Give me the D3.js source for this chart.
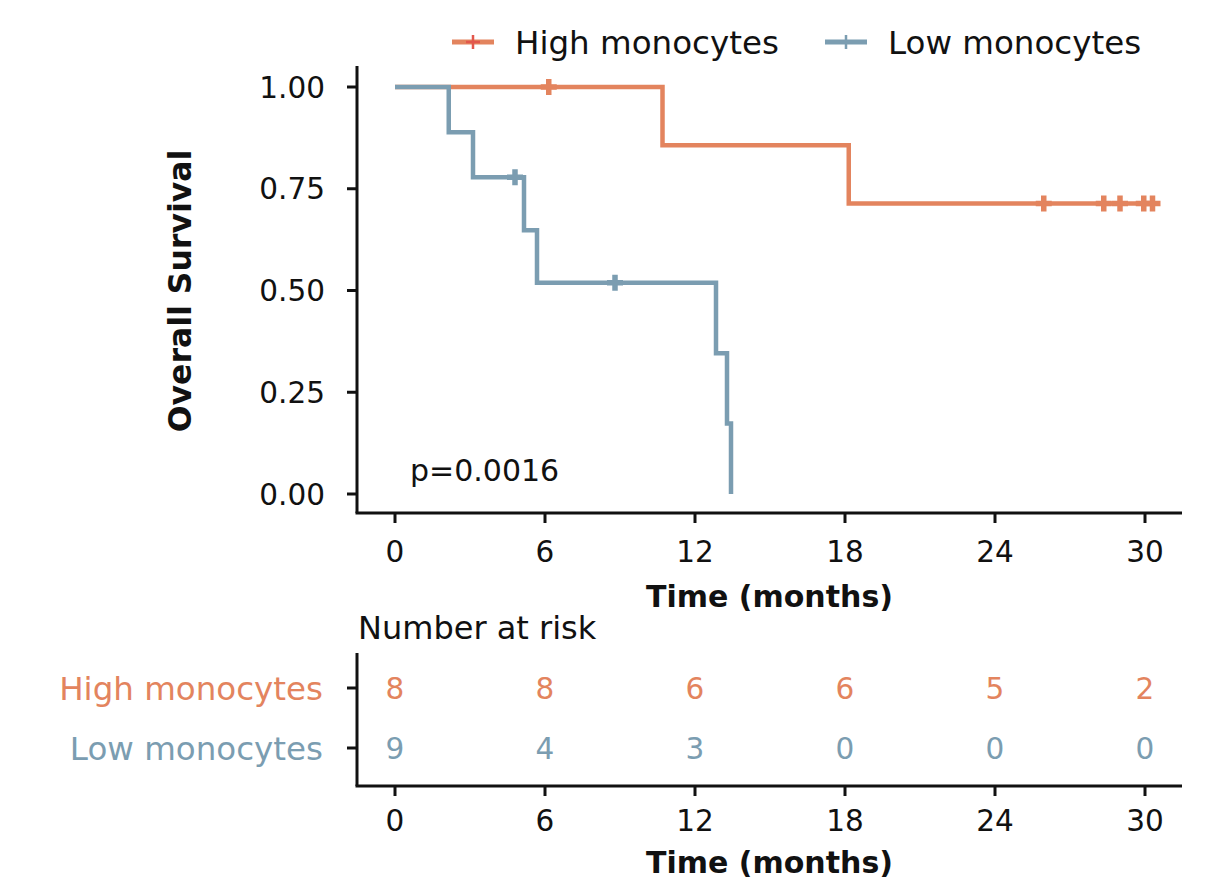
<!DOCTYPE html>
<html>
<head>
<meta charset="utf-8">
<script src="https://cdn.jsdelivr.net/npm/d3@7"></script>
<style>
  body { margin: 0; background: #fff; }
  svg text { font-family: "DejaVu Sans", "Noto Sans", sans-serif; }
</style>
</head>
<body>
<svg id="chart" width="1231" height="884"></svg>
<script>
// survival steps (months, survival proportion)
const groups = ["High monocytes", "Low monocytes"];
const colors = ["#E3845E", "#7B9DB1"];
const highTimes = [0, 10.7, 18.15, 30.3];
const highSurv = [1, 0.857, 0.714, 0.714];
const highCensor = [6.15, 25.95, 28.35, 29.0, 29.95, 30.3];
const lowTimes = [0, 2.15, 3.12, 5.16, 5.68, 12.84, 13.28, 13.44];
const lowSurv = [1, 0.889, 0.778, 0.648, 0.519, 0.346, 0.173, 0];
const lowCensor = [4.8, 8.8];
const xTicks = [0, 6, 12, 18, 24, 30];
const yTicks = [0, 0.25, 0.5, 0.75, 1];
const highRisk = [8, 8, 6, 6, 5, 2];
const lowRisk = [9, 4, 3, 0, 0, 0];
const pValue = "p=0.0016";

const svg = d3.select("#chart");
const x = d3.scaleLinear().domain([0, 30]).range([395, 1145]);
const y = d3.scaleLinear().domain([0, 1]).range([494, 87]);
const xMin = -1.52, xMax = 31.48;
const xMid = (x(xMin) + x(xMax)) / 2;

const series = [
  { name: groups[0], color: colors[0], t: highTimes, s: highSurv, c: highCensor },
  { name: groups[1], color: colors[1], t: lowTimes, s: lowSurv, c: lowCensor }
];

function survAt(d, t) {
  let v = d.s[0];
  d.t.forEach((tt, i) => { if (tt <= t) v = d.s[i]; });
  return v;
}

// axes
const axisColor = "#111";
const numSize = 29.5;
svg.append("line").attr("x1", x(xMin)).attr("x2", x(xMin)).attr("y1", 66).attr("y2", 513)
  .attr("stroke", axisColor).attr("stroke-width", 3);
svg.append("line").attr("x1", x(xMin) - 1.5).attr("x2", x(xMax)).attr("y1", 513).attr("y2", 513)
  .attr("stroke", axisColor).attr("stroke-width", 3);

yTicks.forEach(v => {
  svg.append("line").attr("x1", x(xMin) - 10).attr("x2", x(xMin)).attr("y1", y(v)).attr("y2", y(v))
    .attr("stroke", axisColor).attr("stroke-width", 3);
  svg.append("text").attr("x", 325).attr("y", y(v)).attr("dy", "0.36em")
    .attr("text-anchor", "end").attr("font-size", numSize).attr("fill", "#111")
    .text(d3.format(".2f")(v));
});

xTicks.forEach(v => {
  svg.append("line").attr("x1", x(v)).attr("x2", x(v)).attr("y1", 513).attr("y2", 523)
    .attr("stroke", axisColor).attr("stroke-width", 3);
  svg.append("text").attr("x", x(v)).attr("y", 551).attr("dy", "0.36em")
    .attr("text-anchor", "middle").attr("font-size", numSize).attr("fill", "#111").text(v);
});

svg.append("text").attr("x", xMid).attr("y", 596).attr("dy", "0.36em")
  .attr("text-anchor", "middle").attr("font-size", 30).attr("font-weight", "bold")
  .attr("fill", "#111").text("Time (months)");

svg.append("text").attr("transform", "translate(180,291) rotate(-90)").attr("dy", "0.36em")
  .attr("text-anchor", "middle").attr("font-size", 31.5).attr("font-weight", "bold")
  .attr("fill", "#111").text("Overall Survival");

// curves
const line = d3.line().x(d => x(d[0])).y(d => y(d[1])).curve(d3.curveStepAfter);
series.forEach(d => {
  const pts = d.t.map((t, i) => [t, d.s[i]]);
  svg.append("path").datum(pts).attr("d", line)
    .attr("fill", "none").attr("stroke", d.color).attr("stroke-width", 4.5);
  svg.selectAll(null).data(d.c).join("path")
    .attr("d", c => { const cx = x(c), cy = y(survAt(d, c)); return `M${cx - 8},${cy}H${cx + 8}M${cx},${cy - 8}V${cy + 8}`; })
    .attr("stroke", d.color).attr("stroke-width", 5.5).attr("fill", "none");
});

svg.append("text").attr("x", 410).attr("y", 470).attr("dy", "0.36em")
  .attr("font-size", 30).attr("fill", "#111").text(pValue);

// legend
const legendX = [452, 825];
series.forEach((d, i) => {
  const lx = legendX[i];
  svg.append("line").attr("x1", lx).attr("x2", lx + 42).attr("y1", 42).attr("y2", 42)
    .attr("stroke", d.color).attr("stroke-width", 5);
  svg.append("path").attr("d", `M${lx + 21},${35}V${49}M${lx + 14},42H${lx + 28}`)
    .attr("stroke", i === 0 ? "#E2574C" : d.color).attr("stroke-width", 2.5);
  svg.append("text").attr("x", lx + 63).attr("y", 42).attr("dy", "0.36em")
    .attr("font-size", 32.5).attr("fill", "#111").text(d.name);
});

// risk table
svg.append("text").attr("x", 358).attr("y", 627).attr("dy", "0.36em")
  .attr("font-size", 32).attr("fill", "#111").text("Number at risk");

const rowY = d3.scalePoint().domain(groups).range([688, 748]);
svg.append("line").attr("x1", x(xMin)).attr("x2", x(xMin)).attr("y1", 653).attr("y2", 786)
  .attr("stroke", axisColor).attr("stroke-width", 3);
svg.append("line").attr("x1", x(xMin) - 1.5).attr("x2", x(xMax)).attr("y1", 786).attr("y2", 786)
  .attr("stroke", axisColor).attr("stroke-width", 3);

series.forEach((d, i) => {
  const ry = rowY(d.name);
  svg.append("line").attr("x1", x(xMin) - 10).attr("x2", x(xMin)).attr("y1", ry).attr("y2", ry)
    .attr("stroke", axisColor).attr("stroke-width", 3);
  svg.append("text").attr("x", 323).attr("y", ry).attr("dy", "0.36em")
    .attr("text-anchor", "end").attr("font-size", 32.5).attr("fill", d.color).text(d.name);
  const risk = i === 0 ? highRisk : lowRisk;
  risk.forEach((r, j) => {
    svg.append("text").attr("x", x(xTicks[j])).attr("y", ry).attr("dy", "0.36em")
      .attr("text-anchor", "middle").attr("font-size", numSize).attr("fill", d.color).text(r);
  });
});

xTicks.forEach(v => {
  svg.append("line").attr("x1", x(v)).attr("x2", x(v)).attr("y1", 786).attr("y2", 796)
    .attr("stroke", axisColor).attr("stroke-width", 3);
  svg.append("text").attr("x", x(v)).attr("y", 820).attr("dy", "0.36em")
    .attr("text-anchor", "middle").attr("font-size", numSize).attr("fill", "#111").text(v);
});
svg.append("text").attr("x", xMid).attr("y", 862).attr("dy", "0.36em")
  .attr("text-anchor", "middle").attr("font-size", 30).attr("font-weight", "bold")
  .attr("fill", "#111").text("Time (months)");
</script>
</body>
</html>
